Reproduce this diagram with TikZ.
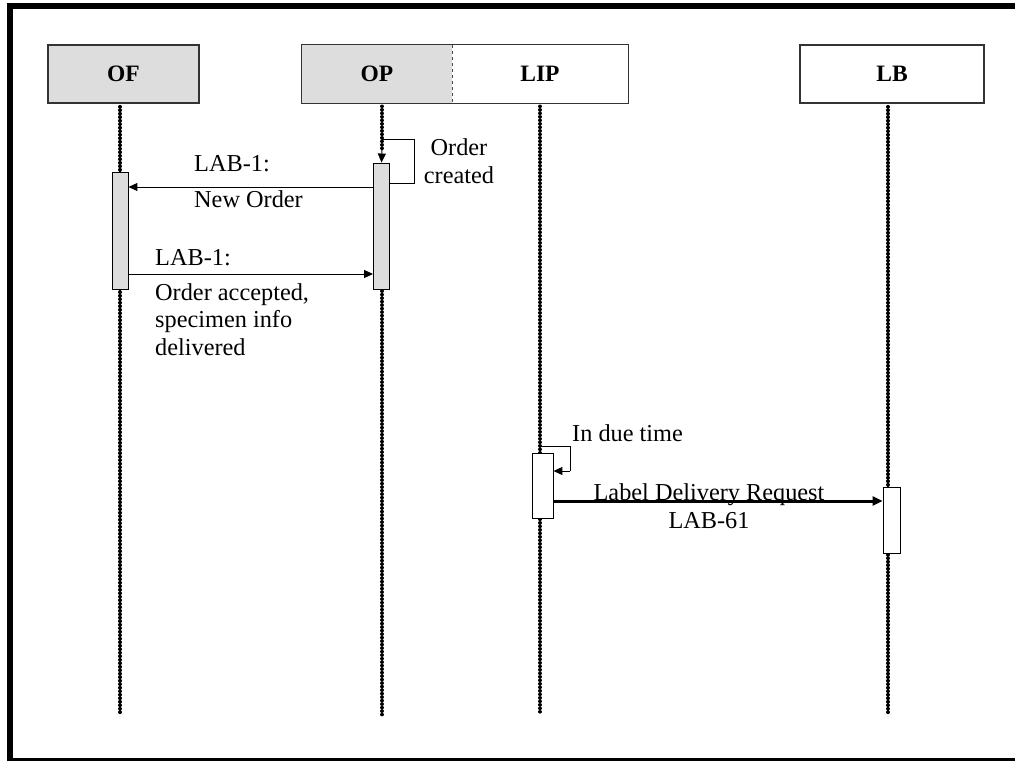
\documentclass[tikz,border=0pt]{standalone}
\usepackage{fontspec}
\setmainfont{Liberation Serif}
\usetikzlibrary{arrows.meta}
\definecolor{boxgray}{HTML}{DDDDDD}
\begin{document}
\begin{tikzpicture}[x=1pt,y=-1pt,
  hdr/.style={inner sep=0pt, minimum height=58pt, font=\fontsize{23.5}{27}\selectfont\bfseries},
  hdrbox/.style={hdr, draw=black!80, line width=1.3pt},
  act/.style={draw=black, line width=0.9pt, inner sep=0pt},
  lifeline/.style={line width=3.4pt, line cap=round, dash pattern=on 0.2pt off 3.3pt},
  msg/.style={line width=1pt, -{Triangle[length=9pt,width=8pt]}},
  bigmsg/.style={line width=3pt, -{Triangle[length=10pt,width=9pt]}},
  plain/.style={line width=1pt},
  lbl/.style={inner sep=0pt, font=\fontsize{24.3}{27.5}\selectfont}
]
\useasboundingbox (0,0) rectangle (1015,761);
% frame
\draw[line width=6pt] (10,761) -- (10,6) -- (1020,6);
\draw[line width=3pt] (7,759.5) -- (1020,759.5);

% headers
\node[hdrbox, fill=boxgray, minimum width=151pt] (OF) at (123.5,74) {OF};
\node[hdr, fill=boxgray, minimum width=150pt] (OP) at (377,74) {OP};
\node[hdr, fill=white, minimum width=176pt] (LIP) at (540,74) {LIP};
\draw[draw=black!80, line width=1.3pt] (OP.north west) rectangle (LIP.south east);
\draw[black!70, line width=0.8pt, dashed] (OP.north east) -- (OP.south east);
\node[hdrbox, fill=white, minimum width=184pt] (LB) at (892,74) {LB};

% lifeline ends
\coordinate (OFbot) at (120,715);
\coordinate (OPbot) at (382,715);
\coordinate (LIPbot) at (540,715);
\coordinate (LBbot) at (888,715);
\draw[lifeline] ([yshift=-3pt]OFbot |- OF.south) -- (OFbot);
\draw[lifeline] ([yshift=-3pt]OPbot |- OP.south) -- (382,151);
\draw[lifeline] (382,291) -- (OPbot);
\draw[lifeline] ([yshift=-3pt]LIPbot |- LIP.south) -- (LIPbot);
\draw[lifeline] ([yshift=-3pt]LBbot |- LB.south) -- (LBbot);

% activations
\node[act, fill=boxgray, minimum width=16pt, minimum height=117pt] (OFact) at (120,230.5) {};
\node[act, fill=boxgray, minimum width=16pt, minimum height=126pt] (OPact) at (381.5,226) {};
\node[act, fill=white, minimum width=21pt, minimum height=65pt] (LIPact) at (542.5,485.5) {};
\node[act, fill=white, minimum width=17pt, minimum height=66pt] (LBact) at (891.5,520) {};

% OP self message
\coordinate (opl1) at (414,139);
\coordinate (opl2) at (414,183);
\draw[plain] (OPbot |- opl1) -- (opl1) -- (opl2) -- (OPact.east |- opl2);
\draw[msg] (382,150) -- (OPact.north);
\node[lbl, align=center] (oc) at (459,161) {Order\\created};

% LAB-1 New Order
\coordinate (m1) at (250,187);
\draw[msg] (OPact.west |- m1) -- (OFact.east |- m1);
\node[lbl, anchor=base west] (m1a) at (194,171) {LAB-1:};
\node[lbl, anchor=base west] (m1b) at (194,207) {New Order};

% LAB-1 Order accepted
\coordinate (m2) at (250,274);
\draw[msg] (OFact.east |- m2) -- (OPact.west |- m2);
\node[lbl, anchor=base west] (m2a) at (155,265) {LAB-1:};
\node[lbl, anchor=north west, align=left] (m2b) at (155,283) {Order accepted,\\specimen info\\delivered};

% LIP self message
\coordinate (l1) at (570,446);
\coordinate (l2) at (570,471);
\draw[plain] (LIPbot |- l1) -- (l1) -- (l2);
\draw[msg] (l2) -- (LIPact.east |- l2);
\node[lbl, anchor=base west] (idt) at (572,441) {In due time};

% Label delivery request
\coordinate (m3) at (700,501);
\draw[bigmsg] (LIPact.east |- m3) -- (LBact.west |- m3);
\node[lbl, anchor=base] (m3a) at (709,500) {Label Delivery Request};
\node[lbl, anchor=base] (m3b) at (709,528) {LAB-61};
\end{tikzpicture}
\end{document}
